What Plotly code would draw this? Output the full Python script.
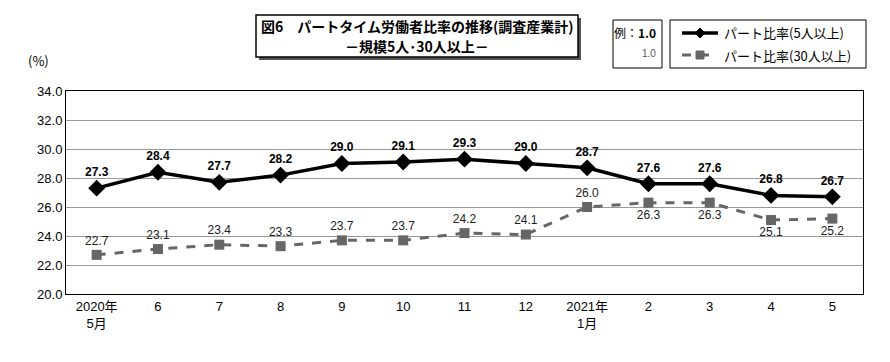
import plotly.graph_objects as go

categories = ["2020年<br>5月", "6", "7", "8", "9", "10", "11", "12", "2021年<br>1月", "2", "3", "4", "5"]
part5 = [27.3, 28.4, 27.7, 28.2, 29.0, 29.1, 29.3, 29.0, 28.7, 27.6, 27.6, 26.8, 26.7]
part30 = [22.7, 23.1, 23.4, 23.3, 23.7, 23.7, 24.2, 24.1, 26.0, 26.3, 26.3, 25.1, 25.2]
pos30 = ["top center"] * 9 + ["bottom center"] * 4
yticks = [20, 22, 24, 26, 28, 30, 32, 34]
names = ["パート比率(5人以上)", "パート比率(30人以上)"]

FONT = "Liberation Sans Narrow, Liberation Sans, Noto Sans CJK JP"
JP = "Noto Sans CJK JP"

fig = go.Figure()
fig.add_trace(go.Scatter(
    x=categories, y=part5, name=names[0],
    mode="lines+markers+text",
    line=dict(color="black", width=3.5),
    marker=dict(symbol="diamond", size=13, color="black"),
    text=[f"<b>{v:.1f}</b>" for v in part5], textposition="top center",
    textfont=dict(size=12, color="black", family=FONT),
))
fig.add_trace(go.Scatter(
    x=categories, y=part30, name=names[1],
    mode="lines+markers+text",
    line=dict(color="#666666", width=3, dash="dash"),
    marker=dict(symbol="square", size=10, color="#666666"),
    text=[f"{v:.1f}" for v in part30], textposition=pos30,
    textfont=dict(size=12, color="#222222", family=FONT),
))

L, R, T, B = 66, 863, 91, 294

def px(x):
    return (x - L) / (R - L)

def py(y):
    return (B - y) / (B - T)

shapes = [
    # title shadow and box
    dict(type="rect", xref="paper", yref="paper", x0=px(259), x1=px(581), y0=py(60), y1=py(18),
         fillcolor="#555555", line=dict(width=0), layer="below"),
    dict(type="rect", xref="paper", yref="paper", x0=px(256), x1=px(578), y0=py(57), y1=py(15),
         fillcolor="white", line=dict(color="black", width=1.5)),
    # example box
    dict(type="rect", xref="paper", yref="paper", x0=px(613), x1=px(662), y0=py(68), y1=py(20),
         fillcolor="white", line=dict(color="black", width=1)),
    # legend box
    dict(type="rect", xref="paper", yref="paper", x0=px(670), x1=px(866), y0=py(68), y1=py(20),
         fillcolor="white", line=dict(color="black", width=1)),
    # legend samples
    dict(type="line", xref="paper", yref="paper", x0=px(682), x1=px(718), y0=py(33), y1=py(33),
         line=dict(color="black", width=3.5)),
    dict(type="path", xref="paper", yref="paper", xsizemode="pixel", ysizemode="pixel",
         xanchor=px(700), yanchor=py(33), path="M 0 5 L 5 0 L 0 -5 L -5 0 Z",
         fillcolor="black", line=dict(color="black", width=1)),
    dict(type="line", xref="paper", yref="paper", x0=px(682), x1=px(718), y0=py(55), y1=py(55),
         line=dict(color="#666666", width=3, dash="dash")),
    dict(type="path", xref="paper", yref="paper", xsizemode="pixel", ysizemode="pixel",
         xanchor=px(700), yanchor=py(55), path="M -4 -4 L 4 -4 L 4 4 L -4 4 Z",
         fillcolor="#666666", line=dict(color="#666666", width=1)),
]

annotations = [
    dict(xref="paper", yref="paper", x=px(417), y=py(26), text="<b>図6　パートタイム労働者比率の推移(調査産業計)</b>",
         showarrow=False, font=dict(size=14, family=JP, color="black"), xanchor="center", yanchor="middle"),
    dict(xref="paper", yref="paper", x=px(417), y=py(46), text="<b>－規模5人･30人以上－</b>",
         showarrow=False, font=dict(size=14, family=JP, color="black"), xanchor="center", yanchor="middle"),
    dict(xref="paper", yref="paper", x=px(658), y=py(33), text="例：<b>1.0</b>",
         showarrow=False, font=dict(size=12, family=JP, color="black"), xanchor="right", yanchor="middle"),
    dict(xref="paper", yref="paper", x=px(658), y=py(54), text="1.0",
         showarrow=False, font=dict(size=10, family=FONT, color="#555555"), xanchor="right", yanchor="middle"),
    dict(xref="paper", yref="paper", x=px(722), y=py(33), text=names[0],
         showarrow=False, font=dict(size=13, family=JP, color="black"), xanchor="left", yanchor="middle"),
    dict(xref="paper", yref="paper", x=px(722), y=py(55), text=names[1],
         showarrow=False, font=dict(size=13, family=JP, color="black"), xanchor="left", yanchor="middle"),
    dict(xref="paper", yref="paper", x=px(38), y=py(60), text="(%)",
         showarrow=False, font=dict(size=13, family=JP, color="black"), xanchor="center", yanchor="middle"),
]

fig.update_layout(
    width=890, height=362,
    margin=dict(l=L, r=890 - R, t=T, b=362 - B),
    paper_bgcolor="white", plot_bgcolor="white",
    font=dict(family=FONT, size=13, color="black"),
    shapes=shapes, annotations=annotations,
    showlegend=False,
)
fig.update_xaxes(type="category", range=[-0.5, 12.5], showgrid=False,
                 showline=True, linecolor="black", linewidth=1, mirror=True,
                 ticks="", tickfont=dict(size=13, family=FONT), automargin=False)
fig.update_yaxes(range=[20, 34], tickvals=yticks, ticktext=[f"{v:.1f}" for v in yticks],
                 showgrid=True, gridcolor="#999999", gridwidth=1,
                 showline=True, linecolor="black", linewidth=1, mirror=True,
                 ticks="", tickfont=dict(size=13, family=FONT), zeroline=False, automargin=False)

fig.write_html("out.html", config={"displayModeBar": False},
               post_script="document.body.style.margin='0';document.body.style.overflow='hidden';")
